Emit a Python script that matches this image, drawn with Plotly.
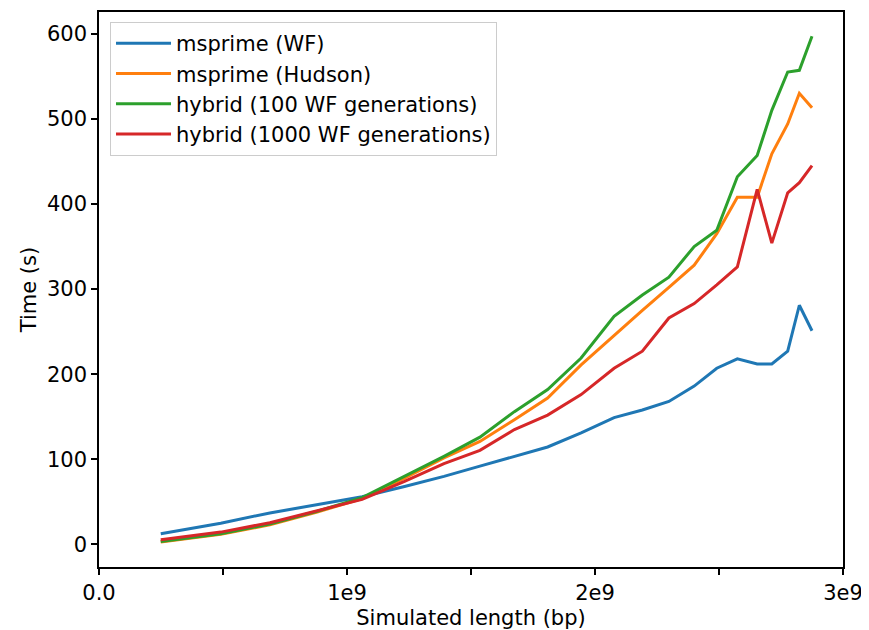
import plotly.graph_objects as go

# Simulated length (bp) -- cumulative positions
length_bp = [0.249e9, 0.491e9, 0.689e9, 0.880e9, 1.061e9, 1.232e9, 1.391e9, 1.536e9,
             1.675e9, 1.809e9, 1.944e9, 2.077e9, 2.191e9, 2.298e9, 2.400e9, 2.491e9,
             2.574e9, 2.654e9, 2.713e9, 2.777e9, 2.824e9, 2.875e9]

msprime_wf = [12.5, 25, 37, 47, 56, 68, 80, 92, 103.5, 114.5, 131, 149,
              158, 168, 186, 207, 218, 212, 212, 227, 281, 251]
msprime_hudson = [3, 12, 23, 38, 54, 78, 101.6, 121, 146.5, 172, 211, 246,
                  275, 302, 328, 365, 408, 408, 459, 494, 530, 513]
hybrid_100 = [3.5, 12.5, 24, 39, 55, 80, 103.5, 126, 156, 182, 219, 268,
              293, 314, 350, 369, 432, 457, 510, 555, 557, 597]
hybrid_1000 = [5.5, 14.5, 25.5, 40, 53, 74, 95, 110.5, 135, 152, 176, 207,
               227, 266, 283, 305, 326, 417, 354, 413, 425, 445]

series_names = ["msprime (WF)", "msprime (Hudson)",
                "hybrid (100 WF generations)", "hybrid (1000 WF generations)"]
series_values = [msprime_wf, msprime_hudson, hybrid_100, hybrid_1000]
series_colors = ["#1f77b4", "#ff7f0e", "#2ca02c", "#d62728"]

x_tickvals = [0, 0.5e9, 1e9, 1.5e9, 2e9, 2.5e9, 3e9]
x_ticktext = ["0.0", "", "1e9", "", "2e9", "", "3e9"]
y_tickvals = [0, 100, 200, 300, 400, 500, 600]

FS = 21

fig = go.Figure()
for i, (name, vals, col) in enumerate(zip(series_names, series_values, series_colors)):
    fig.add_trace(go.Scatter(x=length_bp, y=vals, mode="lines", name=name,
                             legendgroup=f"g{i}",
                             line=dict(color=col, width=3)))

axis_common = dict(showline=True, linecolor="black", linewidth=1.5, mirror=True,
                   ticks="outside", ticklen=6, tickwidth=1.5, tickcolor="black",
                   showgrid=False, zeroline=False, automargin=False,
                   tickfont=dict(size=FS, color="black"))

fig.update_layout(
    width=861, height=622,
    margin=dict(l=91, r=26, t=4, b=63, autoexpand=False),
    paper_bgcolor="white", plot_bgcolor="white",
    font=dict(family="DejaVu Sans", size=FS, color="black"),
    showlegend=True,
    legend=dict(x=0.0148, y=0.982, xanchor="left", yanchor="top",
                bgcolor="rgba(255,255,255,0.8)", bordercolor="#cccccc", borderwidth=1,
                font=dict(size=FS), tracegroupgap=0, traceorder="normal",
                itemwidth=55),
    xaxis=dict(range=[0, 3e9], tickvals=x_tickvals, ticktext=x_ticktext,
               title=dict(text="Simulated length (bp)", font=dict(size=FS), standoff=6),
               **axis_common),
    yaxis=dict(range=[-26.5, 625.5], tickvals=y_tickvals,
               title=dict(text="Time (s)", font=dict(size=FS), standoff=5),
               **axis_common),
)

fig.write_html("out.html")
